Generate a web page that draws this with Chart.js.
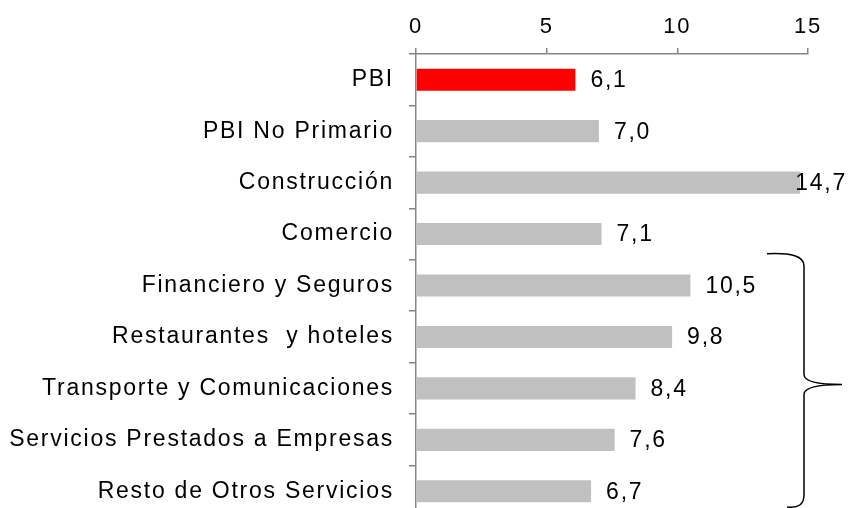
<!DOCTYPE html>
<html>
<head>
<meta charset="utf-8">
<script src="https://cdn.jsdelivr.net/npm/chart.js@4"></script>
<style>
  html, body { margin: 0; padding: 0; background: #fff; overflow: hidden; }
  canvas { display: block; }
</style>
</head>
<body>
<canvas id="chart" width="856" height="520"></canvas>
<script>
const categories = [
    'PBI',
    'PBI No Primario',
    'Construcción',
    'Comercio',
    'Financiero y Seguros',
    'Restaurantes  y hoteles',
    'Transporte y Comunicaciones',
    'Servicios Prestados a Empresas',
    'Resto de Otros Servicios'
];
const growth = [6.1, 7.0, 14.7, 7.1, 10.5, 9.8, 8.4, 7.6, 6.7];
const barColors = ['#ff0000', '#c0c0c0', '#c0c0c0', '#c0c0c0', '#c0c0c0', '#c0c0c0', '#c0c0c0', '#c0c0c0', '#c0c0c0'];
const xTicks = [0, 5, 10, 15];
const bracketFrom = 4;
const bracketTo = 8;

const FONT = 'Liberation Sans, Arial, sans-serif';
const SPACING = '1.75px';

// excel draws its text a bit spread out
const spacingPlugin = {
    id: 'spacing',
    beforeDraw(chart) {
        chart.ctx.letterSpacing = SPACING;
    }
};

const valueLabels = {
    id: 'valueLabels',
    afterDatasetsDraw(chart) {
        const ctx = chart.ctx;
        const meta = chart.getDatasetMeta(0);
        ctx.save();
        ctx.letterSpacing = SPACING;
        ctx.font = '23px ' + FONT;
        ctx.fillStyle = '#000';
        ctx.textBaseline = 'middle';
        ctx.textAlign = 'left';
        meta.data.forEach((bar, i) => {
            const txt = growth[i].toFixed(1).replace('.', ',');
            const w = ctx.measureText(txt).width;
            let x = bar.x + 15;
            x = Math.min(x, chart.width - 9 - w);
            ctx.fillText(txt, x, bar.y + 1);
        });
        ctx.restore();
    }
};

const bracket = {
    id: 'bracket',
    afterDraw(chart) {
        const y = chart.scales.y;
        const ctx = chart.ctx;
        const step = y.getPixelForValue(1) - y.getPixelForValue(0);
        const top = y.getPixelForValue(bracketFrom) - step / 2 - 6;
        const bottom = y.getPixelForValue(bracketTo) + step / 2 - 10;
        const mid = y.getPixelForValue((bracketFrom + bracketTo) / 2) - 4;
        const x0 = 767, x1 = 804, x2 = 842;
        ctx.save();
        ctx.letterSpacing = '0px';
        ctx.strokeStyle = '#000';
        ctx.lineWidth = 1.5;
        ctx.beginPath();
        ctx.moveTo(x0, top);
        ctx.quadraticCurveTo(x1, top - 2, x1, top + 12);
        ctx.lineTo(x1, mid - 10);
        ctx.quadraticCurveTo(x1, mid, x2, mid);
        ctx.moveTo(x2, mid);
        ctx.quadraticCurveTo(x1, mid, x1, mid + 10);
        ctx.lineTo(x1, bottom - 12);
        ctx.quadraticCurveTo(x1, bottom + 2, x0 + 20, bottom);
        ctx.stroke();
        ctx.restore();
    }
};

new Chart(document.getElementById('chart'), {
    type: 'bar',
    data: {
        labels: categories,
        datasets: [{
            data: growth,
            backgroundColor: barColors,
            borderWidth: 0,
            categoryPercentage: 1,
            barPercentage: 0.43
        }]
    },
    options: {
        indexAxis: 'y',
        responsive: false,
        animation: false,
        layout: { padding: { left: 0, right: 48, top: 0, bottom: 3 } },
        plugins: {
            legend: { display: false },
            tooltip: { enabled: false }
        },
        scales: {
            x: {
                position: 'top',
                min: 0,
                max: 15,
                afterBuildTicks: (scale) => {
                    scale.ticks = xTicks.map(v => ({ value: v }));
                },
                afterFit: (scale) => { scale.height = 54; },
                grid: { drawOnChartArea: false, tickLength: 6, color: '#868686', lineWidth: 1.5 },
                border: { color: '#868686', width: 1.5 },
                ticks: {
                    padding: 8,
                    color: '#000',
                    font: { family: FONT, size: 22 }
                }
            },
            y: {
                afterFit: (scale) => {
                    scale.width = 416;
                    scale.paddingTop = 0;
                    scale.paddingBottom = 0;
                },
                grid: { drawOnChartArea: false, tickLength: 7, color: '#868686', lineWidth: 1.5 },
                border: { color: '#868686', width: 1.5 },
                ticks: {
                    padding: 15,
                    color: '#000',
                    font: { family: FONT, size: 23 }
                }
            }
        }
    },
    plugins: [spacingPlugin, valueLabels, bracket]
});
</script>
</body>
</html>
